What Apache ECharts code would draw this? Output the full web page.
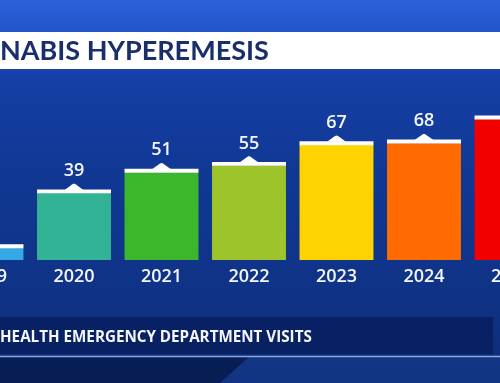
<!DOCTYPE html>
<html><head><meta charset="utf-8">
<script src="https://cdn.jsdelivr.net/npm/echarts@6/dist/echarts.min.js"></script>
<style>html,body{margin:0;padding:0;background:#0f3791}#c{width:500px;height:383px}</style>
</head><body><div id="c"></div>
<script>
var years = ['2019','2020','2021','2022','2023','2024','2025'];
var visits = [7, 39, 51, 55, 67, 68, 82];
var barColors = ['#35a9e6','#32b395','#3cb72b','#9dc42b','#ffd300','#ff6b00','#f20000'];
var titleText = 'NABIS HYPEREMESIS';
var footerText = 'HEALTH EMERGENCY DEPARTMENT VISITS';

var chart = echarts.init(document.getElementById('c'), null, {renderer:'canvas'});
var data = visits.map(function(v,i){return [i, v];});
var option = {
  animation:false,
  backgroundColor: new echarts.graphic.LinearGradient(0,0,0,1,[
    {offset:0,color:'#2b61d9'},{offset:0.09,color:'#2253c9'},{offset:0.2,color:'#153fa6'},
    {offset:0.45,color:'#103893'},{offset:0.8,color:'#0f3284'},{offset:1,color:'#0c2c78'}]),
  grid:{left:-57.25, right:-55.25, top:88.2, bottom:123, containLabel:false, outerBoundsMode:'none'},
  xAxis:{type:'category', data:years, boundaryGap:true,
    axisLine:{show:false}, axisTick:{show:false},
    axisLabel:{color:'#f4f6fb', fontFamily:'Open Sans', fontWeight:600, fontSize:18, margin:8, interval:0}},
  yAxis:{type:'value', min:0, max:100, show:false, splitLine:{show:false}},
  graphic:[
    {type:'polygon', silent:true, z:-1, shape:{points:[[0,356],[250,356],[220,383],[0,383]]}, style:{fill:'rgba(4,18,55,0.55)'}},
    {type:'polygon', silent:true, z:-1, shape:{points:[[250,356],[500,356],[500,383],[220,383]]}, style:{fill:'rgba(30,70,150,0.35)'}},
    {type:'rect', silent:true, shape:{x:0,y:32,width:500,height:37}, style:{fill:'#ffffff'}},
    {type:'text', silent:true, x:0, y:51, style:{text:titleText, fill:'#1b2e6c', font:'bold 27px Lato', textVerticalAlign:'middle'}},
    {type:'rect', silent:true, shape:{x:0,y:317,width:493,height:37}, style:{fill:'rgba(8,30,92,0.8)'}},
    {type:'rect', silent:true, shape:{x:0,y:355.8,width:500,height:1.4}, style:{fill:'#8fa9d8'}},
    {type:'text', silent:true, x:0, y:337.5, style:{text:footerText, fill:'#f4f6fb', font:'bold 15.2px "Open Sans"', textVerticalAlign:'middle'}}
  ],
  series:[{
    type:'custom', data:data, clip:false,
    renderItem:function(params, api){
      var i = api.value(0), v = api.value(1);
      var top = api.coord([i, v]);
      var base = api.coord([i, 0]);
      var bw = api.size([1,0])[0]*0.845;
      var cx = top[0], x0 = cx - bw/2;
      var capH = 3.6;
      var capTop = top[1] - capH;
      return {type:'group', children:[
        {type:'rect', shape:{x:x0, y:top[1], width:bw, height:base[1]-top[1]}, style:{fill:barColors[params.dataIndex]}},
        {type:'rect', shape:{x:x0, y:capTop, width:bw, height:capH+0.3}, style:{fill:'#ffffff'}},
        {type:'polygon', shape:{points:[[cx-9.5,capTop+0.5],[cx-1.5,capTop-5.2],[cx,capTop-5.8],[cx+1.5,capTop-5.2],[cx+9.5,capTop+0.5]]}, style:{fill:'#ffffff'}},
        {type:'text', x:cx, y:capTop-9.5, style:{text:String(v), fill:'#f4f6fb', font:'600 18px "Open Sans"', textAlign:'center', textVerticalAlign:'bottom'}}
      ]};
    }
  }]
};
chart.setOption(option);
</script></body></html>
